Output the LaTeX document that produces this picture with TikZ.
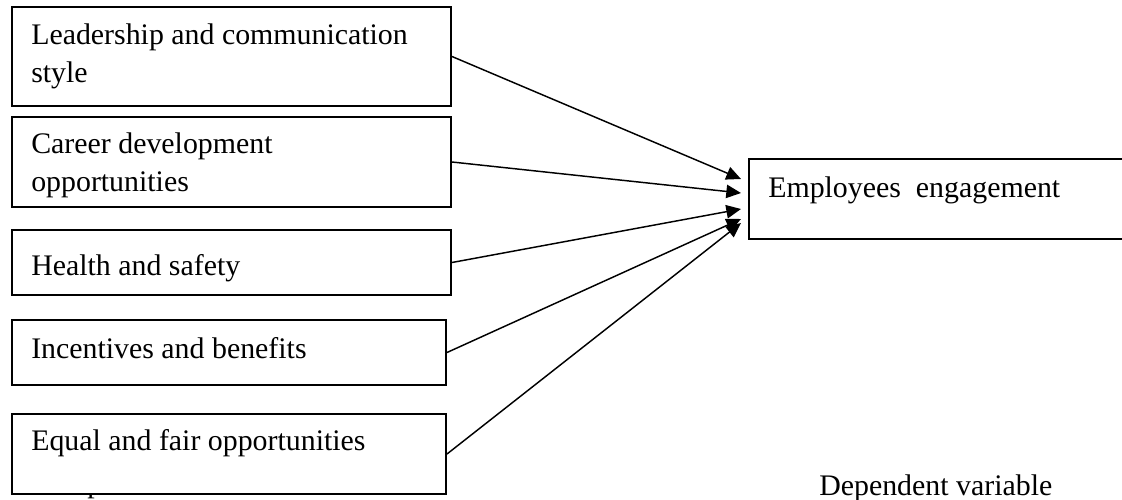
\documentclass[tikz,border=0pt]{standalone}
\usepackage{xcolor}
\usepackage{amsmath}
\usepackage{fontspec}
\setmainfont{Liberation Serif}
\usepackage{tikz}
\usetikzlibrary{arrows.meta, positioning, fit}

\tikzset{
  varbox/.style={draw, line width=1.5pt, fill=white, inner sep=0pt},
  varlabel/.style={anchor=base west, align=left, inner sep=0pt, font=\fontsize{22.4}{28}\selectfont},
  effect/.style={line width=1.1pt, -{Triangle[length=11pt,width=10pt]}}
}

\begin{document}
\begin{tikzpicture}[x=0.75pt, y=-0.75pt]
    \useasboundingbox (0,0) rectangle (1122,500);
    \clip (0,0) rectangle (1122,500);

    % caption of the left column, hidden behind the last box
    \node[varlabel] (indep) at (34,492) {Independent variables};

    % independent variables
    \node[varbox, fit={(12,7) (451,106)}] (lead) {};
    \node[varbox, fit={(12,117) (451,207)}] (career) {};
    \node[varbox, fit={(12,230) (451,295)}] (health) {};
    \node[varbox, fit={(12,320) (446,385)}] (incent) {};
    \node[varbox, fit={(12,414) (446,494)}] (equal) {};

    % base of a two line label is its last line
    \node[varlabel] (lead-t) at (31,82) {Leadership and communication\\style};
    \node[varlabel] (career-t) at (31,191) {Career development\\opportunities};
    \node[varlabel] (health-t) at (31,275) {Health and safety};
    \node[varlabel] (incent-t) at (31,358) {Incentives and benefits};
    \node[varlabel] (equal-t) at (31,450) {Equal and fair opportunities};

    % dependent variable
    \node[varbox, fit={(749,159) (1130,239)}] (engage) {};
    \node[varlabel] (engage-t) at (768,197) {Employees~ engagement};
    \node[varlabel] (dep) at (819,495) {Dependent variable};

    % arrow tips just left of the engagement box
    \coordinate (t1) at (741,179);
    \coordinate (t2) at (741,193);
    \coordinate (t3) at (741,209);
    \coordinate (t4) at (741,219);
    \coordinate (t5) at (741,223);

    \draw[effect] (lead.east) -- (t1);
    \draw[effect] (career.east) -- (t2);
    \draw[effect] (health.east) -- (t3);
    \draw[effect] (incent.east) -- (t4);
    \draw[effect] (equal.east) -- (t5);

\end{tikzpicture}
\end{document}
